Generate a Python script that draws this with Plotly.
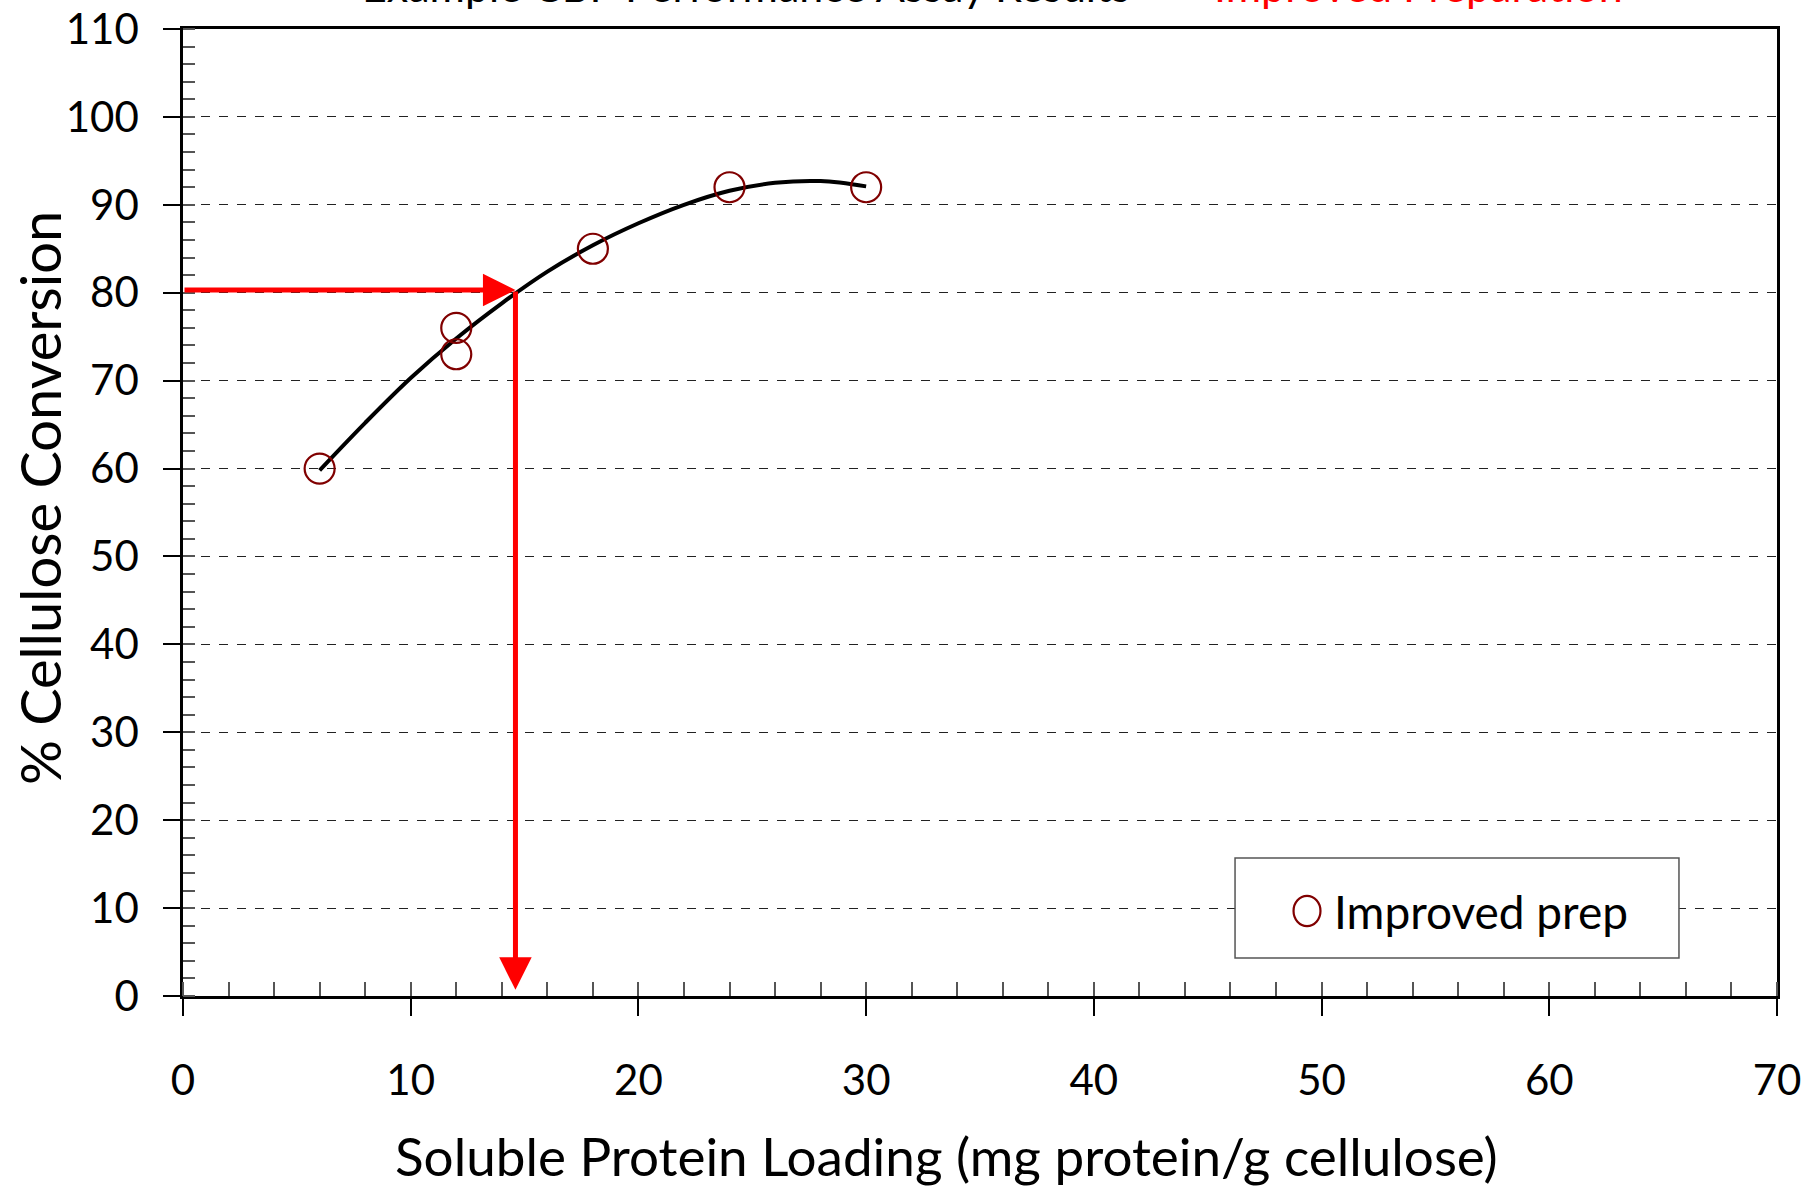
import plotly.graph_objects as go

# Data
loading = [6, 12, 12, 18, 24, 30]
conversion = [60, 76, 73, 85, 92, 92]

# Trendline points (2nd order fit drawn in the original)
fit_x = [6, 8, 10, 12, 14, 16, 18, 20, 22, 24, 26, 28, 30]
fit_y = [59.8, 65.2, 70.3, 74.8, 78.8, 82.4, 85.4, 87.9, 90.0, 91.6, 92.5, 92.7, 92.1]

# Red read-off arrows
target_x = 14.6
target_y = 80.3

x_ticks = [0, 10, 20, 30, 40, 50, 60, 70]
y_ticks = [0, 10, 20, 30, 40, 50, 60, 70, 80, 90, 100, 110]

FONT = "Lato"
MARKER_COLOR = "#800000"

fig = go.Figure()
fig.add_trace(go.Scatter(
    x=fit_x, y=fit_y, mode="lines", line=dict(color="black", width=4, shape="spline"),
    showlegend=False, hoverinfo="skip"))
fig.add_trace(go.Scatter(
    x=loading, y=conversion, mode="markers", name="Improved prep", showlegend=False,
    marker=dict(symbol="circle-open", size=30, color=MARKER_COLOR, line=dict(width=2.2, color=MARKER_COLOR))))
# legend entry (its symbol is drawn larger as a shape below)
fig.add_trace(go.Scatter(
    x=[None], y=[None], mode="markers", name="Improved prep",
    marker=dict(symbol="circle-open", size=16, color="rgba(0,0,0,0)")))

fig.update_layout(
    width=1818, height=1186,
    margin=dict(l=183, r=41, t=29, b=190),
    paper_bgcolor="white", plot_bgcolor="white",
    font=dict(family=FONT, size=42, color="black"),
    showlegend=True,
    legend=dict(x=0.697, y=0.0879, xanchor="left", yanchor="middle",
                borderwidth=0, bgcolor="rgba(0,0,0,0)",
                font=dict(size=46, family=FONT)),
    xaxis=dict(range=[0, 70], tickvals=x_ticks, ticktext=[str(v) for v in x_ticks],
               showgrid=False, zeroline=False, automargin=False,
               showline=True, linecolor="black", linewidth=3, mirror=True,
               ticks="outside", ticklen=17, tickwidth=1.5, tickcolor="black",
               ticklabelstandoff=29,
               minor=dict(ticks="inside", ticklen=14, dtick=2, tickwidth=1.5, tickcolor="#555555", showgrid=False),
               tickfont=dict(size=42, family=FONT)),
    yaxis=dict(range=[0, 110], tickvals=y_ticks, ticktext=[str(v) for v in y_ticks],
               showgrid=True, gridcolor="#222222", griddash="dash", gridwidth=1.2,
               zeroline=False, automargin=False,
               showline=True, linecolor="black", linewidth=2.5, mirror=True,
               ticks="outside", ticklen=17, tickwidth=1.5, tickcolor="black",
               ticklabelstandoff=16,
               minor=dict(ticks="inside", ticklen=12, dtick=2, tickwidth=1.5, tickcolor="#555555", showgrid=False),
               tickfont=dict(size=42, family=FONT)),
)

# Legend frame and symbol
fig.add_shape(type="rect", xref="paper", yref="paper", x0=0.66, x1=0.9385, y0=0.0393, y1=0.1427,
              line=dict(color="#555555", width=1.5), fillcolor="white", layer="above")
fig.add_shape(type="circle", xref="paper", yref="paper", x0=0.6967, x1=0.7136, y0=0.0723, y1=0.1035,
              line=dict(color=MARKER_COLOR, width=2.2), fillcolor="rgba(0,0,0,0)", layer="above")

# Axis titles
fig.add_annotation(text="Soluble Protein Loading (mg protein/g cellulose)",
                   xref="paper", yref="paper", x=0.479, y=-0.165, xanchor="center", yanchor="middle",
                   showarrow=False, font=dict(size=53, family=FONT, color="black"))
fig.add_annotation(text="% Cellulose Conversion",
                   xref="paper", yref="paper", x=-0.0897, y=0.515, xanchor="center", yanchor="middle",
                   textangle=-90, showarrow=False, font=dict(size=56, family=FONT, color="black"))

# Title (cut off at the top of the picture)
fig.add_annotation(text="Example CBP Performance Assay Results",
                   xref="paper", yref="paper", x=0.111, y=1.0162, xanchor="left", yanchor="bottom",
                   showarrow=False, font=dict(size=43, family=FONT, color="black"))
fig.add_annotation(text="Improved Preparation",
                   xref="paper", yref="paper", x=0.6455, y=1.0162, xanchor="left", yanchor="bottom",
                   showarrow=False, font=dict(size=43, family=FONT, color="red"))

# Red arrows
fig.add_annotation(x=target_x, y=target_y, ax=0, ay=target_y, xref="x", yref="y", axref="x", ayref="y",
                   text="", showarrow=True, arrowhead=2, arrowsize=1.3, arrowwidth=5, arrowcolor="red")
fig.add_annotation(x=target_x, y=0.7, ax=target_x, ay=target_y, xref="x", yref="y", axref="x", ayref="y",
                   text="", showarrow=True, arrowhead=2, arrowsize=1.3, arrowwidth=5, arrowcolor="red")

fig.write_html("out.html", config={"displayModeBar": False},
               post_script="document.body.style.margin='0px';")
